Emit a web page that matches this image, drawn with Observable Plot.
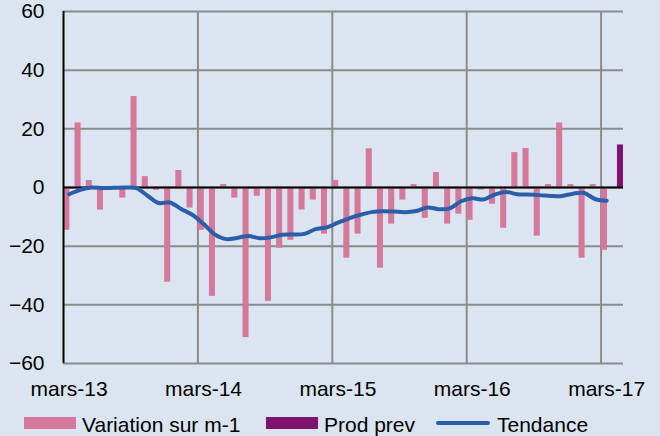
<!DOCTYPE html>
<html>
<head>
<meta charset="utf-8">
<script src="https://cdn.jsdelivr.net/npm/d3@7"></script>
<script src="https://cdn.jsdelivr.net/npm/@observablehq/plot@0.6"></script>
<style>
  html, body { margin: 0; padding: 0; background: #dbe5f1; }
  #wrap { width: 660px; height: 436px; position: relative; overflow: hidden; background: #dbe5f1; font-family: "Liberation Sans", Arial, sans-serif; }
  #legend { position: relative; width: 660px; height: 31px; }
  .sw { position: absolute; }
  .lt { position: absolute; top: 8px; font-size: 21px; line-height: 24px; color: #000; white-space: nowrap; }
</style>
</head>
<body>
<div id="wrap"><div id="chart"></div>
<div id="legend">
  <div class="sw" style="left:24px;top:12px;width:52px;height:12px;background:#d5789b"></div>
  <div class="lt" style="left:82px">Variation sur m-1</div>
  <div class="sw" style="left:266px;top:12px;width:52px;height:12px;background:#7f1271"></div>
  <div class="lt" style="left:324px">Prod prev</div>
  <div class="sw" style="left:436px;top:16px;width:54px;height:4px;border-radius:2px;background:#2a5fa8"></div>
  <div class="lt" style="left:497px">Tendance</div>
</div>
</div>
<script>
// Monthly index 0 = mars-13 ... 48 = mars-17, 49 = avr-17
const variation = [
  -14.6, 22, 2.4, -7.7, 0, -3.6, 31, 3.7, -1, -32.3, 5.8, -7,
  -14.6, -37.1, 1, -3.6, -51.2, -3, -38.8, -20.7, -18, -7.7, -4.3, -15.9,
  2.4, -24.1, -15.9, 13.2, -27.5, -12.5, -4.3, 1, -10.5, 5.1, -12.5, -9.1,
  -11.2, -0.9, -5.7, -13.9, 11.9, 13.3, -16.6, 1, 22, 1, -24.1, 1,
  -21.4
];
const prodPrevIndex = [49];
const prodPrev = [14.5];
const tendance = [
  -2.3, -0.8, 0, -0.2, -0.1, 0, -0.2, -2.8, -5.3, -5.1, -7.3, -9.3,
  -12.4, -16, -17.6, -17.2, -16.5, -17.3, -17, -16.1, -16, -15.8, -14.2, -13.6,
  -12, -10.5, -9.3, -8.4, -8.1, -8.2, -8.4, -8, -6.8, -7.4, -7.1, -4.7,
  -3.7, -4.1, -2.4, -1.5, -2.3, -2.4, -2.6, -2.9, -2.9, -2.1, -1.9, -4,
  -4.5
];
const yTicks = [-60, -40, -20, 0, 20, 40, 60];
const xTickIndex = [0, 12, 24, 36, 48];
const xTickLabels = ["mars-13", "mars-14", "mars-15", "mars-16", "mars-17"];

const varData = variation.map((v, i) => ({i, v}));
const prevData = prodPrev.map((v, k) => ({i: prodPrevIndex[k], v}));
const trendData = tendance.map((v, i) => ({i, v}));
const labelMap = new Map(xTickIndex.map((d, k) => [d + 0.5, xTickLabels[k]]));

const chart = Plot.plot({
  width: 660,
  height: 405,
  marginTop: 11,
  marginBottom: 42,
  marginLeft: 63,
  marginRight: 37,
  style: {background: "transparent", fontFamily: "'Liberation Sans', Arial, sans-serif", fontSize: "21px", color: "#000", overflow: "visible"},
  x: {type: "linear", domain: [0, 50]},
  y: {domain: [-60, 60]},
  marks: [
    Plot.ruleY(yTicks, {stroke: "#8b8b8b", strokeWidth: 2}),
    Plot.ruleX(xTickIndex.slice(1), {y1: -60, y2: 60, stroke: "#8b8b8b", strokeWidth: 2}),
    Plot.rect(varData, {x1: d => d.i + 0.03, x2: d => d.i + 0.57, y1: 0, y2: "v", fill: "#d5789b"}),
    Plot.rect(prevData, {x1: d => d.i + 0.46, x2: d => d.i + 1.0, y1: 0, y2: "v", fill: "#7f1271"}),
    Plot.ruleY([0], {stroke: "#000", strokeWidth: 2}),
    Plot.ruleX([0], {y1: -60, y2: 60, stroke: "#000", strokeWidth: 2}),
    Plot.line(trendData, {x: d => d.i + 0.5, y: "v", stroke: "#2a5fa8", strokeWidth: 4, curve: "catmull-rom", strokeLinecap: "round"}),
    Plot.axisY(yTicks, {tickSize: 0, tickPadding: 19, fontSize: 21, fill: "#000", label: null}),
    Plot.axisX(xTickIndex.map(d => d + 0.5), {tickSize: 0, tickPadding: 18, fontSize: 21, fill: "#000", label: null, tickFormat: d => labelMap.get(d)})
  ]
});
document.getElementById("chart").appendChild(chart);
</script>
</body>
</html>
